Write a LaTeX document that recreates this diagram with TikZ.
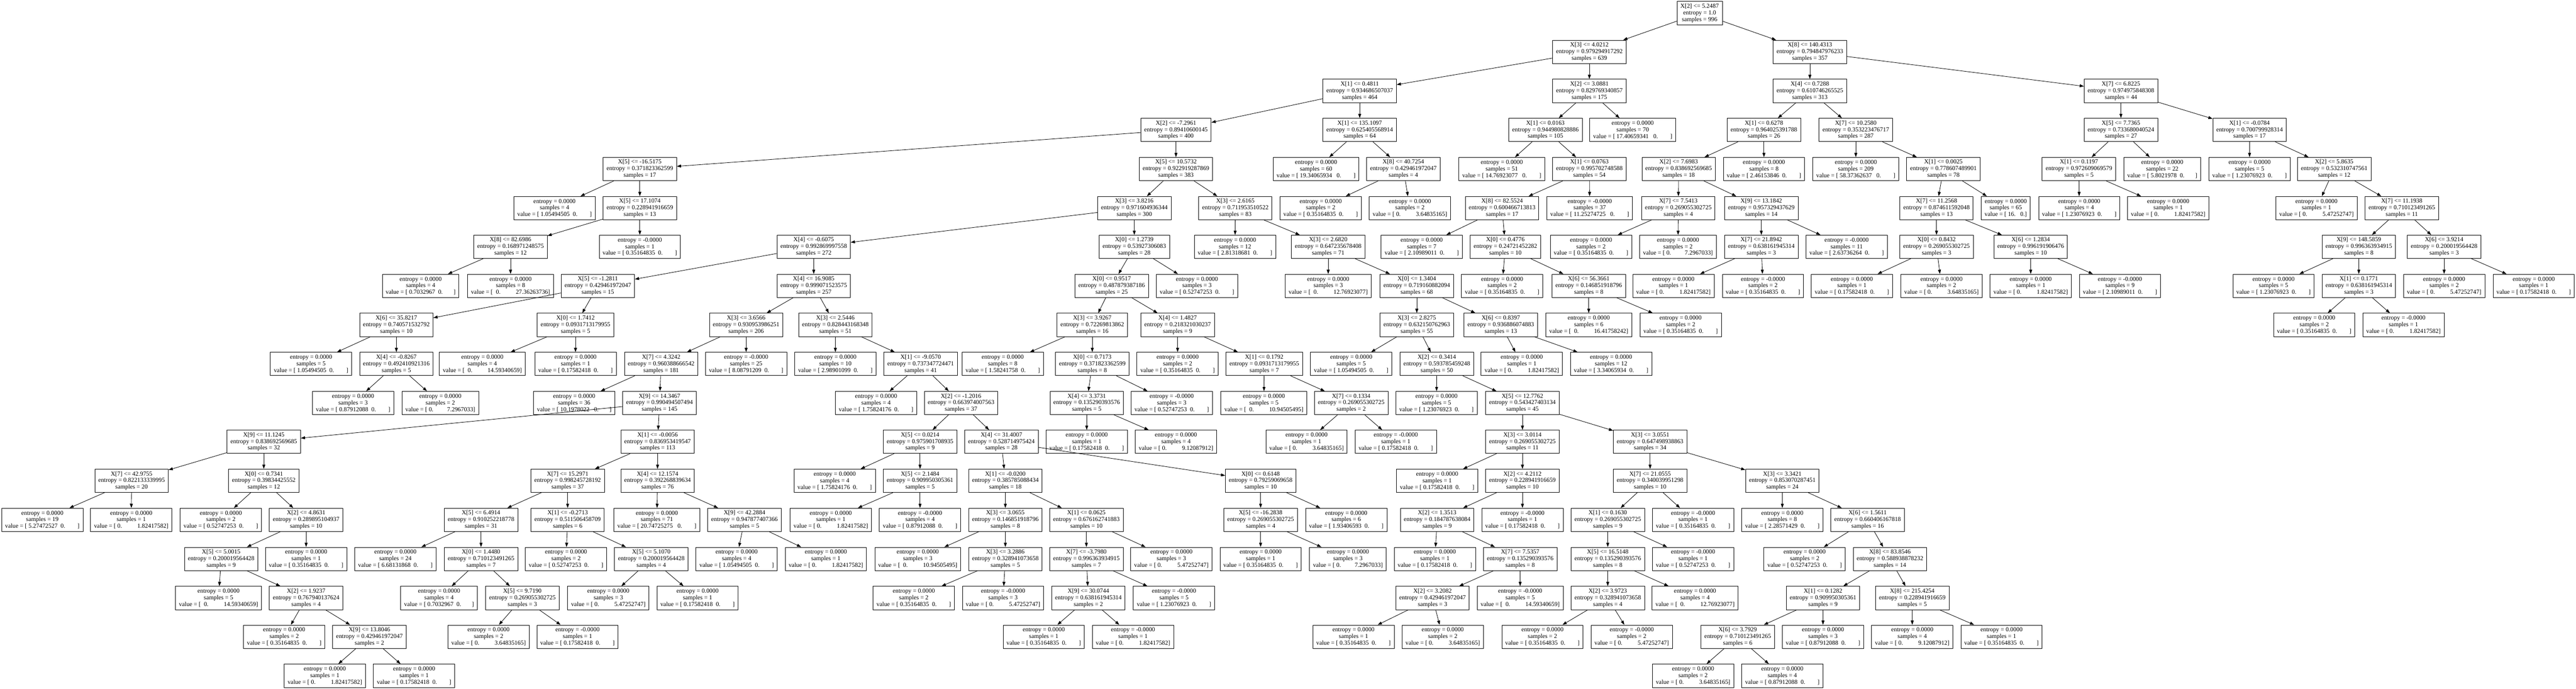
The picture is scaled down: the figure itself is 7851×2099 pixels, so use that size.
\documentclass[tikz,border=0pt]{standalone}
\usepackage{fontspec}
\setmainfont{Liberation Serif}
\usetikzlibrary{arrows.meta}
\newcommand{\gap}[1]{\hspace*{#1\fontdimen2\font}}

\begin{document}
\begin{tikzpicture}[x=1pt, y=-1pt,
    cond/.style={draw, line width=1.3pt, rectangle, align=center, minimum height=71pt, inner xsep=10.5pt, inner ysep=0pt, font=\fontsize{18.67}{20.2}\selectfont},
    leaf/.style={cond},
    every edge/.style={draw, line width=1.3pt, -{Triangle[length=13pt,width=9pt]}}]
		\useasboundingbox (0,0) rectangle (7851,2099);

		\draw (5180,40) node [cond] (n0) {X[2] <= 5.2487\\entropy = 1.0\\samples = 996};
		\draw (4844,158) node [cond] (n1) {X[3] <= 4.0212\\entropy = 0.979294917292\\samples = 639};
		\draw (4144,277) node [cond] (n2) {X[1] <= 0.4811\\entropy = 0.934686507037\\samples = 464};
		\draw (3584,396) node [cond] (n3) {X[2] <= -7.2961\\entropy = 0.89410600145\\samples = 400};
		\draw (1950,515) node [cond] (n4) {X[5] <= -16.5175\\entropy = 0.371823362599\\samples = 17};
		\draw (1690,634) node [leaf] (n5) {entropy = 0.0000\\samples = 4\\value = [\gap{1}1.05494505\gap{2}0.\gap{8}]};
		\draw (1950,634) node [cond] (n6) {X[5] <= 17.1074\\entropy = 0.228941916659\\samples = 13};
		\draw (1556,752) node [cond] (n7) {X[8] <= 82.6986\\entropy = 0.168971248575\\samples = 12};
		\draw (1282,871) node [leaf] (n8) {entropy = 0.0000\\samples = 4\\value = [\gap{1}0.7032967\gap{2}0.\gap{7}]};
		\draw (1556,871) node [leaf] (n9) {entropy = 0.0000\\samples = 8\\value = [\gap{2}0.\gap{10}27.36263736]};
		\draw (1950,752) node [leaf] (n10) {entropy = -0.0000\\samples = 1\\value = [\gap{1}0.35164835\gap{2}0.\gap{8}]};
		\draw (3584,515) node [cond] (n11) {X[5] <= 10.5732\\entropy = 0.922919287869\\samples = 383};
		\draw (3457,634) node [cond] (n12) {X[3] <= 3.8216\\entropy = 0.971604936344\\samples = 300};
		\draw (2480,752) node [cond] (n13) {X[4] <= -0.6075\\entropy = 0.992869997558\\samples = 272};
		\draw (1822,871) node [cond] (n14) {X[5] <= -1.2811\\entropy = 0.429461972047\\samples = 15};
		\draw (1208,990) node [cond] (n15) {X[6] <= 35.8217\\entropy = 0.740571532792\\samples = 10};
		\draw (948,1109) node [leaf] (n16) {entropy = 0.0000\\samples = 5\\value = [\gap{1}1.05494505\gap{2}0.\gap{8}]};
		\draw (1208,1109) node [cond] (n17) {X[4] <= -0.8267\\entropy = 0.492410921316\\samples = 5};
		\draw (1076,1228) node [leaf] (n18) {entropy = 0.0000\\samples = 3\\value = [\gap{1}0.87912088\gap{2}0.\gap{8}]};
		\draw (1342,1228) node [leaf] (n19) {entropy = 0.0000\\samples = 2\\value = [\gap{1}0.\gap{9}7.2967033]};
		\draw (1754,990) node [cond] (n20) {X[0] <= 1.7412\\entropy = 0.0931713179955\\samples = 5};
		\draw (1470,1109) node [leaf] (n21) {entropy = 0.0000\\samples = 4\\value = [\gap{2}0.\gap{10}14.59340659]};
		\draw (1754,1109) node [leaf] (n22) {entropy = 0.0000\\samples = 1\\value = [\gap{1}0.17582418\gap{2}0.\gap{8}]};
		\draw (2480,871) node [cond] (n23) {X[4] <= 16.9085\\entropy = 0.999071523575\\samples = 257};
		\draw (2274,990) node [cond] (n24) {X[3] <= 3.6566\\entropy = 0.930953986251\\samples = 206};
		\draw (2015,1109) node [cond] (n25) {X[7] <= 4.3242\\entropy = 0.960388666542\\samples = 181};
		\draw (1750,1228) node [leaf] (n26) {entropy = 0.0000\\samples = 36\\value = [\gap{1}10.1978022\gap{3}0.\gap{7}]};
		\draw (2010,1228) node [cond] (n27) {X[9] <= 14.3467\\entropy = 0.990494507494\\samples = 145};
		\draw (804,1346) node [cond] (n28) {X[9] <= 11.1245\\entropy = 0.838692569685\\samples = 32};
		\draw (401,1465) node [cond] (n29) {X[7] <= 42.9755\\entropy = 0.822133339995\\samples = 20};
		\draw (129,1584) node [leaf] (n30) {entropy = 0.0000\\samples = 19\\value = [\gap{1}5.27472527\gap{2}0.\gap{8}]};
		\draw (400,1584) node [leaf] (n31) {entropy = 0.0000\\samples = 1\\value = [\gap{1}0.\gap{10}1.82417582]};
		\draw (804,1465) node [cond] (n32) {X[0] <= 0.7341\\entropy = 0.39834425552\\samples = 12};
		\draw (673,1584) node [leaf] (n33) {entropy = 0.0000\\samples = 2\\value = [\gap{1}0.52747253\gap{2}0.\gap{8}]};
		\draw (933,1584) node [cond] (n34) {X[2] <= 4.8631\\entropy = 0.289895104937\\samples = 10};
		\draw (674,1703) node [cond] (n35) {X[5] <= 5.0015\\entropy = 0.200019564428\\samples = 9};
		\draw (666,1822) node [leaf] (n36) {entropy = 0.0000\\samples = 5\\value = [\gap{2}0.\gap{10}14.59340659]};
		\draw (933,1822) node [cond] (n37) {X[2] <= 1.9237\\entropy = 0.767940137624\\samples = 4};
		\draw (866,1940) node [leaf] (n38) {entropy = 0.0000\\samples = 2\\value = [\gap{1}0.35164835\gap{2}0.\gap{8}]};
		\draw (1126,1940) node [cond] (n39) {X[9] <= 13.8046\\entropy = 0.429461972047\\samples = 2};
		\draw (990,2059) node [leaf] (n40) {entropy = 0.0000\\samples = 1\\value = [\gap{1}0.\gap{10}1.82417582]};
		\draw (1262,2059) node [leaf] (n41) {entropy = 0.0000\\samples = 1\\value = [\gap{1}0.17582418\gap{2}0.\gap{8}]};
		\draw (933,1703) node [leaf] (n42) {entropy = 0.0000\\samples = 1\\value = [\gap{1}0.35164835\gap{2}0.\gap{8}]};
		\draw (2004,1346) node [cond] (n43) {X[1] <= -0.0056\\entropy = 0.836953419547\\samples = 113};
		\draw (1730,1465) node [cond] (n44) {X[7] <= 15.2971\\entropy = 0.998245728192\\samples = 37};
		\draw (1466,1584) node [cond] (n45) {X[5] <= 6.4914\\entropy = 0.910252218778\\samples = 31};
		\draw (1205,1703) node [leaf] (n46) {entropy = 0.0000\\samples = 24\\value = [\gap{1}6.68131868\gap{2}0.\gap{8}]};
		\draw (1466,1703) node [cond] (n47) {X[0] <= 1.4480\\entropy = 0.710123491265\\samples = 7};
		\draw (1338,1822) node [leaf] (n48) {entropy = 0.0000\\samples = 4\\value = [\gap{1}0.7032967\gap{2}0.\gap{7}]};
		\draw (1592,1822) node [cond] (n49) {X[5] <= 9.7190\\entropy = 0.269055302725\\samples = 3};
		\draw (1489,1940) node [leaf] (n50) {entropy = 0.0000\\samples = 2\\value = [\gap{1}0.\gap{10}3.64835165]};
		\draw (1760,1940) node [leaf] (n51) {entropy = -0.0000\\samples = 1\\value = [\gap{1}0.17582418\gap{2}0.\gap{8}]};
		\draw (1730,1584) node [cond] (n52) {X[1] <= -0.2713\\entropy = 0.511506458709\\samples = 6};
		\draw (1725,1703) node [leaf] (n53) {entropy = 0.0000\\samples = 2\\value = [\gap{1}0.52747253\gap{2}0.\gap{8}]};
		\draw (1985,1703) node [cond] (n54) {X[5] <= 5.1070\\entropy = 0.200019564428\\samples = 4};
		\draw (1854,1822) node [leaf] (n55) {entropy = 0.0000\\samples = 3\\value = [\gap{1}0.\gap{10}5.47252747]};
		\draw (2126,1822) node [leaf] (n56) {entropy = 0.0000\\samples = 1\\value = [\gap{1}0.17582418\gap{2}0.\gap{8}]};
		\draw (2004,1465) node [cond] (n57) {X[4] <= 12.1574\\entropy = 0.392268839634\\samples = 76};
		\draw (2002,1584) node [leaf] (n58) {entropy = 0.0000\\samples = 71\\value = [\gap{1}20.74725275\gap{3}0.\gap{8}]};
		\draw (2269,1584) node [cond] (n59) {X[9] <= 42.2884\\entropy = 0.947877407366\\samples = 5};
		\draw (2245,1703) node [leaf] (n60) {entropy = 0.0000\\samples = 4\\value = [\gap{1}1.05494505\gap{2}0.\gap{8}]};
		\draw (2517,1703) node [leaf] (n61) {entropy = 0.0000\\samples = 1\\value = [\gap{1}0.\gap{10}1.82417582]};
		\draw (2274,1109) node [leaf] (n62) {entropy = -0.0000\\samples = 25\\value = [\gap{1}8.08791209\gap{2}0.\gap{8}]};
		\draw (2546,990) node [cond] (n63) {X[3] <= 2.5446\\entropy = 0.828443168348\\samples = 51};
		\draw (2546,1109) node [leaf] (n64) {entropy = 0.0000\\samples = 10\\value = [\gap{1}2.98901099\gap{2}0.\gap{8}]};
		\draw (2806,1109) node [cond] (n65) {X[1] <= -9.0570\\entropy = 0.737347724471\\samples = 41};
		\draw (2670,1228) node [leaf] (n66) {entropy = 0.0000\\samples = 4\\value = [\gap{1}1.75824176\gap{2}0.\gap{8}]};
		\draw (2929,1228) node [cond] (n67) {X[2] <= -1.2016\\entropy = 0.663974007563\\samples = 37};
		\draw (2804,1346) node [cond] (n68) {X[5] <= 0.0214\\entropy = 0.975901708935\\samples = 9};
		\draw (2544,1465) node [leaf] (n69) {entropy = 0.0000\\samples = 4\\value = [\gap{1}1.75824176\gap{2}0.\gap{8}]};
		\draw (2804,1465) node [cond] (n70) {X[5] <= 2.1484\\entropy = 0.909950305361\\samples = 5};
		\draw (2532,1584) node [leaf] (n71) {entropy = 0.0000\\samples = 1\\value = [\gap{1}0.\gap{10}1.82417582]};
		\draw (2804,1584) node [leaf] (n72) {entropy = -0.0000\\samples = 4\\value = [\gap{1}0.87912088\gap{2}0.\gap{8}]};
		\draw (3052,1346) node [cond] (n73) {X[4] <= 31.4007\\entropy = 0.528714975424\\samples = 28};
		\draw (3064,1465) node [cond] (n74) {X[1] <= -0.0200\\entropy = 0.385785088434\\samples = 18};
		\draw (3064,1584) node [cond] (n75) {X[3] <= 3.0655\\entropy = 0.146851918796\\samples = 8};
		\draw (2797,1703) node [leaf] (n76) {entropy = 0.0000\\samples = 3\\value = [\gap{2}0.\gap{10}10.94505495]};
		\draw (3064,1703) node [cond] (n77) {X[3] <= 3.2886\\entropy = 0.328941073658\\samples = 5};
		\draw (2785,1822) node [leaf] (n78) {entropy = 0.0000\\samples = 2\\value = [\gap{1}0.35164835\gap{2}0.\gap{8}]};
		\draw (3057,1822) node [leaf] (n79) {entropy = -0.0000\\samples = 3\\value = [\gap{1}0.\gap{10}5.47252747]};
		\draw (3311,1584) node [cond] (n80) {X[1] <= 0.0625\\entropy = 0.676162741883\\samples = 10};
		\draw (3311,1703) node [cond] (n81) {X[7] <= -3.7980\\entropy = 0.996363934915\\samples = 7};
		\draw (3317,1822) node [cond] (n82) {X[9] <= 30.0744\\entropy = 0.638161945314\\samples = 2};
		\draw (3181,1940) node [leaf] (n83) {entropy = 0.0000\\samples = 1\\value = [\gap{1}0.35164835\gap{2}0.\gap{8}]};
		\draw (3453,1940) node [leaf] (n84) {entropy = -0.0000\\samples = 1\\value = [\gap{1}0.\gap{10}1.82417582]};
		\draw (3578,1822) node [leaf] (n85) {entropy = -0.0000\\samples = 5\\value = [\gap{1}1.23076923\gap{2}0.\gap{8}]};
		\draw (3570,1703) node [leaf] (n86) {entropy = 0.0000\\samples = 3\\value = [\gap{1}0.\gap{10}5.47252747]};
		\draw (3842,1465) node [cond] (n87) {X[0] <= 0.6148\\entropy = 0.79259069658\\samples = 10};
		\draw (3842,1584) node [cond] (n88) {X[5] <= -16.2838\\entropy = 0.269055302725\\samples = 4};
		\draw (3842,1703) node [leaf] (n89) {entropy = 0.0000\\samples = 1\\value = [\gap{1}0.35164835\gap{2}0.\gap{8}]};
		\draw (4108,1703) node [leaf] (n90) {entropy = 0.0000\\samples = 3\\value = [\gap{1}0.\gap{9}7.2967033]};
		\draw (4103,1584) node [leaf] (n91) {entropy = 0.0000\\samples = 6\\value = [\gap{1}1.93406593\gap{2}0.\gap{8}]};
		\draw (3457,752) node [cond] (n92) {X[0] <= 1.2739\\entropy = 0.53927306083\\samples = 28};
		\draw (3388,871) node [cond] (n93) {X[0] <= 0.9517\\entropy = 0.487879387186\\samples = 25};
		\draw (3329,990) node [cond] (n94) {X[3] <= 3.9267\\entropy = 0.72269813862\\samples = 16};
		\draw (3056,1109) node [leaf] (n95) {entropy = 0.0000\\samples = 8\\value = [\gap{1}1.58241758\gap{2}0.\gap{8}]};
		\draw (3329,1109) node [cond] (n96) {X[0] <= 0.7173\\entropy = 0.371823362599\\samples = 8};
		\draw (3312,1228) node [cond] (n97) {X[4] <= 3.3731\\entropy = 0.135290393576\\samples = 5};
		\draw (3312,1346) node [leaf] (n98) {entropy = 0.0000\\samples = 1\\value = [\gap{1}0.17582418\gap{2}0.\gap{8}]};
		\draw (3584,1346) node [leaf] (n99) {entropy = 0.0000\\samples = 4\\value = [\gap{1}0.\gap{10}9.12087912]};
		\draw (3571,1228) node [leaf] (n100) {entropy = -0.0000\\samples = 3\\value = [\gap{1}0.52747253\gap{2}0.\gap{8}]};
		\draw (3589,990) node [cond] (n101) {X[4] <= 1.4827\\entropy = 0.218321030237\\samples = 9};
		\draw (3589,1109) node [leaf] (n102) {entropy = 0.0000\\samples = 2\\value = [\gap{1}0.35164835\gap{2}0.\gap{8}]};
		\draw (3853,1109) node [cond] (n103) {X[1] <= 0.1792\\entropy = 0.0931713179955\\samples = 7};
		\draw (3852,1228) node [leaf] (n104) {entropy = 0.0000\\samples = 5\\value = [\gap{2}0.\gap{10}10.94505495]};
		\draw (4118,1228) node [cond] (n105) {X[7] <= 0.1334\\entropy = 0.269055302725\\samples = 2};
		\draw (3982,1346) node [leaf] (n106) {entropy = 0.0000\\samples = 1\\value = [\gap{1}0.\gap{10}3.64835165]};
		\draw (4254,1346) node [leaf] (n107) {entropy = -0.0000\\samples = 1\\value = [\gap{1}0.17582418\gap{2}0.\gap{8}]};
		\draw (3648,871) node [leaf] (n108) {entropy = 0.0000\\samples = 3\\value = [\gap{1}0.52747253\gap{2}0.\gap{8}]};
		\draw (3765,634) node [cond] (n109) {X[3] <= 2.6165\\entropy = 0.711953510522\\samples = 83};
		\draw (3764,752) node [leaf] (n110) {entropy = 0.0000\\samples = 12\\value = [\gap{1}2.81318681\gap{2}0.\gap{8}]};
		\draw (4048,752) node [cond] (n111) {X[3] <= 2.6820\\entropy = 0.647235678408\\samples = 71};
		\draw (4048,871) node [leaf] (n112) {entropy = 0.0000\\samples = 3\\value = [\gap{2}0.\gap{10}12.76923077]};
		\draw (4318,871) node [cond] (n113) {X[0] <= 1.3404\\entropy = 0.719160882094\\samples = 68};
		\draw (4318,990) node [cond] (n114) {X[3] <= 2.8275\\entropy = 0.632150762963\\samples = 55};
		\draw (4118,1109) node [leaf] (n115) {entropy = 0.0000\\samples = 5\\value = [\gap{1}1.05494505\gap{2}0.\gap{8}]};
		\draw (4379,1109) node [cond] (n116) {X[2] <= 0.3414\\entropy = 0.593785459248\\samples = 50};
		\draw (4378,1228) node [leaf] (n117) {entropy = 0.0000\\samples = 5\\value = [\gap{1}1.23076923\gap{2}0.\gap{8}]};
		\draw (4640,1228) node [cond] (n118) {X[5] <= 12.7762\\entropy = 0.543427403134\\samples = 45};
		\draw (4640,1346) node [cond] (n119) {X[3] <= 3.0114\\entropy = 0.269055302725\\samples = 11};
		\draw (4380,1465) node [leaf] (n120) {entropy = 0.0000\\samples = 1\\value = [\gap{1}0.17582418\gap{2}0.\gap{8}]};
		\draw (4640,1465) node [cond] (n121) {X[2] <= 4.2112\\entropy = 0.228941916659\\samples = 10};
		\draw (4380,1584) node [cond] (n122) {X[2] <= 1.3513\\entropy = 0.184787638084\\samples = 9};
		\draw (4373,1703) node [leaf] (n123) {entropy = 0.0000\\samples = 1\\value = [\gap{1}0.17582418\gap{2}0.\gap{8}]};
		\draw (4633,1703) node [cond] (n124) {X[7] <= 7.5357\\entropy = 0.135290393576\\samples = 8};
		\draw (4366,1822) node [cond] (n125) {X[2] <= 3.2082\\entropy = 0.429461972047\\samples = 3};
		\draw (4125,1940) node [leaf] (n126) {entropy = 0.0000\\samples = 1\\value = [\gap{1}0.35164835\gap{2}0.\gap{8}]};
		\draw (4397,1940) node [leaf] (n127) {entropy = 0.0000\\samples = 2\\value = [\gap{1}0.\gap{10}3.64835165]};
		\draw (4633,1822) node [leaf] (n128) {entropy = -0.0000\\samples = 5\\value = [\gap{2}0.\gap{10}14.59340659]};
		\draw (4640,1584) node [leaf] (n129) {entropy = -0.0000\\samples = 1\\value = [\gap{1}0.17582418\gap{2}0.\gap{8}]};
		\draw (5029,1346) node [cond] (n130) {X[3] <= 3.0551\\entropy = 0.647498938863\\samples = 34};
		\draw (5029,1465) node [cond] (n131) {X[7] <= 21.0555\\entropy = 0.340039951298\\samples = 10};
		\draw (4900,1584) node [cond] (n132) {X[1] <= 0.1630\\entropy = 0.269055302725\\samples = 9};
		\draw (4900,1703) node [cond] (n133) {X[5] <= 16.5148\\entropy = 0.135290393576\\samples = 8};
		\draw (4900,1822) node [cond] (n134) {X[2] <= 3.9723\\entropy = 0.328941073658\\samples = 4};
		\draw (4701,1940) node [leaf] (n135) {entropy = 0.0000\\samples = 2\\value = [\gap{1}0.35164835\gap{2}0.\gap{8}]};
		\draw (4973,1940) node [leaf] (n136) {entropy = -0.0000\\samples = 2\\value = [\gap{1}0.\gap{10}5.47252747]};
		\draw (5166,1822) node [leaf] (n137) {entropy = 0.0000\\samples = 4\\value = [\gap{2}0.\gap{10}12.76923077]};
		\draw (5160,1703) node [leaf] (n138) {entropy = -0.0000\\samples = 1\\value = [\gap{1}0.52747253\gap{2}0.\gap{8}]};
		\draw (5160,1584) node [leaf] (n139) {entropy = -0.0000\\samples = 1\\value = [\gap{1}0.35164835\gap{2}0.\gap{8}]};
		\draw (5432,1465) node [cond] (n140) {X[3] <= 3.3421\\entropy = 0.853070287451\\samples = 24};
		\draw (5432,1584) node [leaf] (n141) {entropy = 0.0000\\samples = 8\\value = [\gap{1}2.28571429\gap{2}0.\gap{8}]};
		\draw (5692,1584) node [cond] (n142) {X[6] <= 1.5611\\entropy = 0.660406167818\\samples = 16};
		\draw (5500,1703) node [leaf] (n143) {entropy = 0.0000\\samples = 2\\value = [\gap{1}0.52747253\gap{2}0.\gap{8}]};
		\draw (5760,1703) node [cond] (n144) {X[8] <= 83.8546\\entropy = 0.588938878232\\samples = 14};
		\draw (5556,1822) node [cond] (n145) {X[1] <= 0.1282\\entropy = 0.909950305361\\samples = 9};
		\draw (5296,1940) node [cond] (n146) {X[6] <= 3.7929\\entropy = 0.710123491265\\samples = 6};
		\draw (5160,2059) node [leaf] (n147) {entropy = 0.0000\\samples = 2\\value = [\gap{1}0.\gap{10}3.64835165]};
		\draw (5432,2059) node [leaf] (n148) {entropy = 0.0000\\samples = 4\\value = [\gap{1}0.87912088\gap{2}0.\gap{8}]};
		\draw (5556,1940) node [leaf] (n149) {entropy = 0.0000\\samples = 3\\value = [\gap{1}0.87912088\gap{2}0.\gap{8}]};
		\draw (5828,1822) node [cond] (n150) {X[8] <= 215.4254\\entropy = 0.228941916659\\samples = 5};
		\draw (5828,1940) node [leaf] (n151) {entropy = 0.0000\\samples = 4\\value = [\gap{1}0.\gap{10}9.12087912]};
		\draw (6100,1940) node [leaf] (n152) {entropy = 0.0000\\samples = 1\\value = [\gap{1}0.35164835\gap{2}0.\gap{8}]};
		\draw (4574,990) node [cond] (n153) {X[6] <= 0.8397\\entropy = 0.936886074883\\samples = 13};
		\draw (4638,1109) node [leaf] (n154) {entropy = 0.0000\\samples = 1\\value = [\gap{1}0.\gap{10}1.82417582]};
		\draw (4910,1109) node [leaf] (n155) {entropy = 0.0000\\samples = 12\\value = [\gap{1}3.34065934\gap{2}0.\gap{8}]};
		\draw (4144,396) node [cond] (n156) {X[1] <= 135.1097\\entropy = 0.625405568914\\samples = 64};
		\draw (4011,515) node [leaf] (n157) {entropy = 0.0000\\samples = 60\\value = [\gap{1}19.34065934\gap{3}0.\gap{8}]};
		\draw (4277,515) node [cond] (n158) {X[8] <= 40.7254\\entropy = 0.429461972047\\samples = 4};
		\draw (4025,634) node [leaf] (n159) {entropy = 0.0000\\samples = 2\\value = [\gap{1}0.35164835\gap{2}0.\gap{8}]};
		\draw (4297,634) node [leaf] (n160) {entropy = 0.0000\\samples = 2\\value = [\gap{1}0.\gap{10}3.64835165]};
		\draw (4844,277) node [cond] (n161) {X[2] <= 3.0881\\entropy = 0.829769340857\\samples = 175};
		\draw (4710,396) node [cond] (n162) {X[1] <= 0.0163\\entropy = 0.944980828886\\samples = 105};
		\draw (4577,515) node [leaf] (n163) {entropy = 0.0000\\samples = 51\\value = [\gap{1}14.76923077\gap{3}0.\gap{8}]};
		\draw (4844,515) node [cond] (n164) {X[1] <= 0.0763\\entropy = 0.995702748588\\samples = 54};
		\draw (4578,634) node [cond] (n165) {X[8] <= 82.5524\\entropy = 0.600466713813\\samples = 17};
		\draw (4333,752) node [leaf] (n166) {entropy = 0.0000\\samples = 7\\value = [\gap{1}2.10989011\gap{2}0.\gap{8}]};
		\draw (4588,752) node [cond] (n167) {X[0] <= 0.4776\\entropy = 0.24721452282\\samples = 10};
		\draw (4578,871) node [leaf] (n168) {entropy = 0.0000\\samples = 2\\value = [\gap{1}0.35164835\gap{2}0.\gap{8}]};
		\draw (4842,871) node [cond] (n169) {X[6] <= 56.3661\\entropy = 0.146851918796\\samples = 8};
		\draw (4842,990) node [leaf] (n170) {entropy = 0.0000\\samples = 6\\value = [\gap{2}0.\gap{10}16.41758242]};
		\draw (5122,990) node [leaf] (n171) {entropy = 0.0000\\samples = 2\\value = [\gap{1}0.35164835\gap{2}0.\gap{8}]};
		\draw (4845,634) node [leaf] (n172) {entropy = -0.0000\\samples = 37\\value = [\gap{1}11.25274725\gap{3}0.\gap{8}]};
		\draw (4976,396) node [leaf] (n173) {entropy = 0.0000\\samples = 70\\value = [\gap{1}17.40659341\gap{3}0.\gap{8}]};
		\draw (5516,158) node [cond] (n174) {X[8] <= 140.4313\\entropy = 0.794847976233\\samples = 357};
		\draw (5516,277) node [cond] (n175) {X[4] <= 0.7288\\entropy = 0.610746265525\\samples = 313};
		\draw (5376,396) node [cond] (n176) {X[1] <= 0.6278\\entropy = 0.964025391788\\samples = 26};
		\draw (5116,515) node [cond] (n177) {X[2] <= 7.6983\\entropy = 0.838692569685\\samples = 18};
		\draw (5115,634) node [cond] (n178) {X[7] <= 7.5413\\entropy = 0.269055302725\\samples = 4};
		\draw (4849,752) node [leaf] (n179) {entropy = 0.0000\\samples = 2\\value = [\gap{1}0.35164835\gap{2}0.\gap{8}]};
		\draw (5114,752) node [leaf] (n180) {entropy = 0.0000\\samples = 2\\value = [\gap{1}0.\gap{9}7.2967033]};
		\draw (5368,634) node [cond] (n181) {X[9] <= 13.1842\\entropy = 0.957329437629\\samples = 14};
		\draw (5368,752) node [cond] (n182) {X[7] <= 21.8942\\entropy = 0.638161945314\\samples = 3};
		\draw (5100,871) node [leaf] (n183) {entropy = 0.0000\\samples = 1\\value = [\gap{1}0.\gap{10}1.82417582]};
		\draw (5373,871) node [leaf] (n184) {entropy = -0.0000\\samples = 2\\value = [\gap{1}0.35164835\gap{2}0.\gap{8}]};
		\draw (5628,752) node [leaf] (n185) {entropy = -0.0000\\samples = 11\\value = [\gap{1}2.63736264\gap{2}0.\gap{8}]};
		\draw (5376,515) node [leaf] (n186) {entropy = 0.0000\\samples = 8\\value = [\gap{1}2.46153846\gap{2}0.\gap{8}]};
		\draw (5656,396) node [cond] (n187) {X[7] <= 10.2580\\entropy = 0.353223476717\\samples = 287};
		\draw (5656,515) node [leaf] (n188) {entropy = 0.0000\\samples = 209\\value = [\gap{1}58.37362637\gap{3}0.\gap{8}]};
		\draw (5923,515) node [cond] (n189) {X[1] <= 0.0025\\entropy = 0.778607489901\\samples = 78};
		\draw (5902,634) node [cond] (n190) {X[7] <= 11.2568\\entropy = 0.874611592048\\samples = 13};
		\draw (5902,752) node [cond] (n191) {X[0] <= 0.8432\\entropy = 0.269055302725\\samples = 3};
		\draw (5644,871) node [leaf] (n192) {entropy = 0.0000\\samples = 1\\value = [\gap{1}0.17582418\gap{2}0.\gap{8}]};
		\draw (5917,871) node [leaf] (n193) {entropy = 0.0000\\samples = 2\\value = [\gap{1}0.\gap{10}3.64835165]};
		\draw (6189,752) node [cond] (n194) {X[6] <= 1.2834\\entropy = 0.996191906476\\samples = 10};
		\draw (6189,871) node [leaf] (n195) {entropy = 0.0000\\samples = 1\\value = [\gap{1}0.\gap{10}1.82417582]};
		\draw (6461,871) node [leaf] (n196) {entropy = -0.0000\\samples = 9\\value = [\gap{1}2.10989011\gap{2}0.\gap{8}]};
		\draw (6113,634) node [leaf] (n197) {entropy = 0.0000\\samples = 65\\value = [\gap{1}16.\gap{3}0.]};
		\draw (6464,277) node [cond] (n198) {X[7] <= 6.8225\\entropy = 0.974975848308\\samples = 44};
		\draw (6464,396) node [cond] (n199) {X[5] <= 7.7365\\entropy = 0.733680040524\\samples = 27};
		\draw (6336,515) node [cond] (n200) {X[1] <= 0.1197\\entropy = 0.972609069579\\samples = 5};
		\draw (6337,634) node [leaf] (n201) {entropy = 0.0000\\samples = 4\\value = [\gap{1}1.23076923\gap{2}0.\gap{8}]};
		\draw (6608,634) node [leaf] (n202) {entropy = 0.0000\\samples = 1\\value = [\gap{1}0.\gap{10}1.82417582]};
		\draw (6590,515) node [leaf] (n203) {entropy = 0.0000\\samples = 22\\value = [\gap{1}5.8021978\gap{2}0.\gap{7}]};
		\draw (6856,396) node [cond] (n204) {X[1] <= -0.0784\\entropy = 0.700799928314\\samples = 17};
		\draw (6856,515) node [leaf] (n205) {entropy = 0.0000\\samples = 5\\value = [\gap{1}1.23076923\gap{2}0.\gap{8}]};
		\draw (7114,515) node [cond] (n206) {X[2] <= 5.8635\\entropy = 0.532310747561\\samples = 12};
		\draw (7060,634) node [leaf] (n207) {entropy = 0.0000\\samples = 1\\value = [\gap{1}0.\gap{10}5.47252747]};
		\draw (7320,634) node [cond] (n208) {X[7] <= 11.1938\\entropy = 0.710123491265\\samples = 11};
		\draw (7189,752) node [cond] (n209) {X[9] <= 148.5859\\entropy = 0.996363934915\\samples = 8};
		\draw (6929,871) node [leaf] (n210) {entropy = 0.0000\\samples = 5\\value = [\gap{1}1.23076923\gap{2}0.\gap{8}]};
		\draw (7189,871) node [cond] (n211) {X[1] <= 0.1771\\entropy = 0.638161945314\\samples = 3};
		\draw (7053,990) node [leaf] (n212) {entropy = 0.0000\\samples = 2\\value = [\gap{1}0.35164835\gap{2}0.\gap{8}]};
		\draw (7325,990) node [leaf] (n213) {entropy = -0.0000\\samples = 1\\value = [\gap{1}0.\gap{10}1.82417582]};
		\draw (7449,752) node [cond] (n214) {X[6] <= 3.9214\\entropy = 0.200019564428\\samples = 3};
		\draw (7449,871) node [leaf] (n215) {entropy = 0.0000\\samples = 2\\value = [\gap{1}0.\gap{10}5.47252747]};
		\draw (7722,871) node [leaf] (n216) {entropy = 0.0000\\samples = 1\\value = [\gap{1}0.17582418\gap{2}0.\gap{8}]};

		\draw
			(n0) edge (n1)  (n0) edge (n174)
			(n1) edge (n2)  (n1) edge (n161)
			(n2) edge (n3)  (n2) edge (n156)
			(n3) edge (n4)  (n3) edge (n11)
			(n4) edge (n5)  (n4) edge (n6)
			(n6) edge (n7)  (n6) edge (n10)
			(n7) edge (n8)  (n7) edge (n9)
			(n11) edge (n12)  (n11) edge (n109)
			(n12) edge (n13)  (n12) edge (n92)
			(n13) edge (n14)  (n13) edge (n23)
			(n14) edge (n15)  (n14) edge (n20)
			(n15) edge (n16)  (n15) edge (n17)
			(n17) edge (n18)  (n17) edge (n19)
			(n20) edge (n21)  (n20) edge (n22)
			(n23) edge (n24)  (n23) edge (n63)
			(n24) edge (n25)  (n24) edge (n62)
			(n25) edge (n26)  (n25) edge (n27)
			(n27) edge (n28)  (n27) edge (n43)
			(n28) edge (n29)  (n28) edge (n32)
			(n29) edge (n30)  (n29) edge (n31)
			(n32) edge (n33)  (n32) edge (n34)
			(n34) edge (n35)  (n34) edge (n42)
			(n35) edge (n36)  (n35) edge (n37)
			(n37) edge (n38)  (n37) edge (n39)
			(n39) edge (n40)  (n39) edge (n41)
			(n43) edge (n44)  (n43) edge (n57)
			(n44) edge (n45)  (n44) edge (n52)
			(n45) edge (n46)  (n45) edge (n47)
			(n47) edge (n48)  (n47) edge (n49)
			(n49) edge (n50)  (n49) edge (n51)
			(n52) edge (n53)  (n52) edge (n54)
			(n54) edge (n55)  (n54) edge (n56)
			(n57) edge (n58)  (n57) edge (n59)
			(n59) edge (n60)  (n59) edge (n61)
			(n63) edge (n64)  (n63) edge (n65)
			(n65) edge (n66)  (n65) edge (n67)
			(n67) edge (n68)  (n67) edge (n73)
			(n68) edge (n69)  (n68) edge (n70)
			(n70) edge (n71)  (n70) edge (n72)
			(n73) edge (n74)  (n73) edge (n87)
			(n74) edge (n75)  (n74) edge (n80)
			(n75) edge (n76)  (n75) edge (n77)
			(n77) edge (n78)  (n77) edge (n79)
			(n80) edge (n81)  (n80) edge (n86)
			(n81) edge (n82)  (n81) edge (n85)
			(n82) edge (n83)  (n82) edge (n84)
			(n87) edge (n88)  (n87) edge (n91)
			(n88) edge (n89)  (n88) edge (n90)
			(n92) edge (n93)  (n92) edge (n108)
			(n93) edge (n94)  (n93) edge (n101)
			(n94) edge (n95)  (n94) edge (n96)
			(n96) edge (n97)  (n96) edge (n100)
			(n97) edge (n98)  (n97) edge (n99)
			(n101) edge (n102)  (n101) edge (n103)
			(n103) edge (n104)  (n103) edge (n105)
			(n105) edge (n106)  (n105) edge (n107)
			(n109) edge (n110)  (n109) edge (n111)
			(n111) edge (n112)  (n111) edge (n113)
			(n113) edge (n114)  (n113) edge (n153)
			(n114) edge (n115)  (n114) edge (n116)
			(n116) edge (n117)  (n116) edge (n118)
			(n118) edge (n119)  (n118) edge (n130)
			(n119) edge (n120)  (n119) edge (n121)
			(n121) edge (n122)  (n121) edge (n129)
			(n122) edge (n123)  (n122) edge (n124)
			(n124) edge (n125)  (n124) edge (n128)
			(n125) edge (n126)  (n125) edge (n127)
			(n130) edge (n131)  (n130) edge (n140)
			(n131) edge (n132)  (n131) edge (n139)
			(n132) edge (n133)  (n132) edge (n138)
			(n133) edge (n134)  (n133) edge (n137)
			(n134) edge (n135)  (n134) edge (n136)
			(n140) edge (n141)  (n140) edge (n142)
			(n142) edge (n143)  (n142) edge (n144)
			(n144) edge (n145)  (n144) edge (n150)
			(n145) edge (n146)  (n145) edge (n149)
			(n146) edge (n147)  (n146) edge (n148)
			(n150) edge (n151)  (n150) edge (n152)
			(n153) edge (n154)  (n153) edge (n155)
			(n156) edge (n157)  (n156) edge (n158)
			(n158) edge (n159)  (n158) edge (n160)
			(n161) edge (n162)  (n161) edge (n173)
			(n162) edge (n163)  (n162) edge (n164)
			(n164) edge (n165)  (n164) edge (n172)
			(n165) edge (n166)  (n165) edge (n167)
			(n167) edge (n168)  (n167) edge (n169)
			(n169) edge (n170)  (n169) edge (n171)
			(n174) edge (n175)  (n174) edge (n198)
			(n175) edge (n176)  (n175) edge (n187)
			(n176) edge (n177)  (n176) edge (n186)
			(n177) edge (n178)  (n177) edge (n181)
			(n178) edge (n179)  (n178) edge (n180)
			(n181) edge (n182)  (n181) edge (n185)
			(n182) edge (n183)  (n182) edge (n184)
			(n187) edge (n188)  (n187) edge (n189)
			(n189) edge (n190)  (n189) edge (n197)
			(n190) edge (n191)  (n190) edge (n194)
			(n191) edge (n192)  (n191) edge (n193)
			(n194) edge (n195)  (n194) edge (n196)
			(n198) edge (n199)  (n198) edge (n204)
			(n199) edge (n200)  (n199) edge (n203)
			(n200) edge (n201)  (n200) edge (n202)
			(n204) edge (n205)  (n204) edge (n206)
			(n206) edge (n207)  (n206) edge (n208)
			(n208) edge (n209)  (n208) edge (n214)
			(n209) edge (n210)  (n209) edge (n211)
			(n211) edge (n212)  (n211) edge (n213)
			(n214) edge (n215)  (n214) edge (n216)
		;
	\end{tikzpicture}
\end{document}
